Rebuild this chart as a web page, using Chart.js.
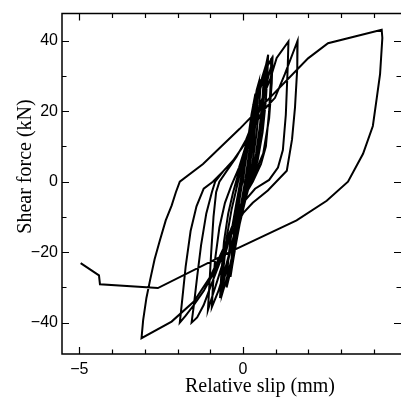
<!DOCTYPE html>
<html>
<head>
<meta charset="utf-8">
<script src="https://cdn.jsdelivr.net/npm/chart.js@4.4.0/dist/chart.umd.min.js"></script>
<style>html,body{margin:0;padding:0;background:#fff}</style>
</head>
<body>
<canvas id="myChart" width="401" height="401"></canvas>
<script>
// relative slip (mm)
const slip = [
  0, 0.08, 0.17, 0.26, 0.32,
  0.28, 0.2, 0.08, -0.05, -0.15, -0.25, -0.28,
  -0.22, -0.12, 0.0, 0.12, 0.24, 0.35, 0.4,
  0.35, 0.26, 0.14, 0.02, -0.1, -0.2, -0.34,
  -0.3, -0.2, -0.08, 0.0,
  0.1, 0.2, 0.3, 0.38,
  0.34, 0.25, 0.12, 0.0, -0.12, -0.22, -0.3,
  -0.27, -0.18, -0.06, 0.06, 0.18, 0.3, 0.42, 0.48,
  0.42, 0.32, 0.18, 0.04, -0.1, -0.22, -0.33, -0.38,
  -0.33, -0.22, -0.1, 0.02, 0.15, 0.28, 0.42, 0.55,
  0.5, 0.42, 0.3, 0.15, 0.0, -0.15, -0.3, -0.42, -0.5,
  -0.45, -0.33, -0.2, -0.06, 0.08, 0.22, 0.38, 0.52, 0.64,
  0.6, 0.52, 0.4, 0.25, 0.08, -0.1, -0.28, -0.45, -0.64,
  -0.6, -0.5, -0.35, -0.2, -0.05, 0.12, 0.3, 0.48, 0.6, 0.7,
  0.67, 0.6, 0.5, 0.35, 0.15, -0.05, -0.25, -0.42, -0.58, -0.7,
  -0.66, -0.58, -0.45, -0.3, -0.12, 0.05, 0.22, 0.4, 0.58, 0.68, 0.77,
  0.75, 0.7, 0.6, 0.45, 0.25, 0.05, -0.15, -0.35, -0.55, -0.75, -0.95,
  -0.92, -0.85, -0.72, -0.55, -0.35, -0.12, 0.08, 0.3, 0.5, 0.7, 0.88,
  0.86, 0.8, 0.7, 0.55, 0.3, 0.05, -0.18, -0.38, -0.58, -0.78, -0.92, -1.07,
  -1.03, -0.97, -0.9, -0.82, -0.72, -0.5, -0.2, 0.1, 0.4, 0.65, 0.83, 1.03, 1.39,
  1.37, 1.31, 1.22, 1.07, 0.8, 0.37, 0, -0.25, -0.5, -0.75, -1.0, -1.2, -1.4, -1.57,
  -1.5, -1.4, -1.28, -1.12, -0.95, -0.85, -0.6, -0.3, 0, 0.3, 0.6, 0.98, 1.28, 1.67,
  1.66, 1.59, 1.5, 1.34, 0.76, 0.3, 0, -0.3, -0.6, -0.9, -1.2, -1.5, -1.75, -1.93,
  -1.85, -1.75, -1.6, -1.42, -1.2, -0.92, -0.6, -0.3, 0.12, 0.4, 0.62, 0.78, 0.9,
  0.88, 0.8, 0.62, 0.3, 0, -0.3, -0.6, -1.0, -1.5, -2.18, -3.1,
  -3.05, -2.95, -2.84, -2.7, -2.54, -2.36, -2.18, -2.05, -1.93, -1.22, -0.1, 1.99, 2.6, 4.24,
  4.26, 4.19, 4.09, 3.97, 3.67, 3.21, 2.56, 1.64, -0.3, -2.6,
  -4.37, -4.40, -4.96
];
// shear force (kN), same order
const force = [
  0, 6, 13, 19, 22,
  16, 9, 1, -6, -12, -18, -20,
  -13, -6, 1, 8, 15, 22, 24,
  17, 9, 2, -5, -12, -17, -24,
  -17, -9, -2, 0,
  8, 15, 21, 25,
  19, 11, 3, -4, -11, -17, -22,
  -16, -9, -2, 5, 12, 19, 26, 28,
  20, 11, 3, -4, -11, -18, -24, -27,
  -19, -11, -4, 3, 10, 17, 24, 29,
  22, 14, 6, -1, -7, -14, -21, -27, -30,
  -22, -13, -6, 1, 8, 15, 22, 28, 30,
  24, 16, 8, 1, -5, -12, -19, -26, -32,
  -25, -16, -8, -2, 4, 11, 18, 26, 30, 33,
  27, 19, 11, 4, -2, -8, -14, -21, -28, -33,
  -26, -17, -9, -3, 3, 9, 15, 22, 28, 32, 36,
  31, 23, 14, 6, 0, -5, -11, -18, -25, -31, -35.6,
  -30, -22, -13, -6, -1, 4, 10, 18, 26, 32, 35,
  30, 20, 10, 5, 0, -4, -9, -15, -22, -28, -32, -36.4,
  -30, -20, -10, -3, 0, 3, 7, 12, 19, 25, 29, 35.1, 39.8,
  33, 19, 9, 4, 0.5, -2, -6, -11, -18, -24, -30, -35, -38.5, -40,
  -35, -27, -18, -9, -3, 0, 3, 6, 10, 15, 20, 23.8, 30.5, 40,
  32.3, 21, 12, 3.1, -2.5, -6, -9, -14, -20, -26, -31, -35, -38, -40,
  -33, -24, -14, -7, -2, 0, 3, 6, 11.6, 17, 24, 30, 34,
  28, 18, 8, 1, -5, -12, -19, -27, -34, -39.7, -44.4,
  -39.3, -33, -28, -22, -16.7, -11, -6.8, -3, 0, 5, 15, 35, 39.3, 43.1,
  40.8, 30.5, 23.8, 15.8, 7.9, 0, -5.4, -11, -19.5, -30.2,
  -29.1, -26.6, -23.1
];
const xTickLabels = [-5, 0];
const yTickLabels = [-40, -20, 0, 20, 40];
const xTicks = [-5, -4, -3, -2, -1, 0, 1, 2, 3, 4];
const yTicks = [-40, -30, -20, -10, 0, 10, 20, 30, 40];

const fmt = (v) => (v < 0 ? "\u2212" + Math.abs(v) : String(v));

const frame = {
  id: "frame",
  afterDraw(c) {
    const ctx = c.ctx;
    const a = c.chartArea;
    const xs = c.scales.x, ys = c.scales.y;
    ctx.save();
    ctx.strokeStyle = "#000";
    ctx.lineWidth = 1.5;
    ctx.beginPath();
    ctx.moveTo(a.right, a.top);
    ctx.lineTo(a.left, a.top);
    ctx.lineTo(a.left, a.bottom);
    ctx.lineTo(a.right, a.bottom);
    ctx.stroke();
    ctx.lineWidth = 1.2;
    ctx.beginPath();
    xTicks.forEach((v) => {
      const p = Math.round(xs.getPixelForValue(v)) + 0.5;
      const len = v % 5 === 0 ? 7 : 4.5;
      ctx.moveTo(p, a.bottom); ctx.lineTo(p, a.bottom - len);
      ctx.moveTo(p, a.top); ctx.lineTo(p, a.top + len);
    });
    yTicks.forEach((v) => {
      const p = Math.round(ys.getPixelForValue(v)) + 0.5;
      const len = v % 20 === 0 ? 7 : 4.5;
      ctx.moveTo(a.left, p); ctx.lineTo(a.left + len, p);
      ctx.moveTo(a.right, p); ctx.lineTo(a.right - len, p);
    });
    ctx.stroke();
    // axis titles
    ctx.fillStyle = "#000";
    ctx.font = '20px "Liberation Serif"';
    ctx.textAlign = "center";
    ctx.textBaseline = "alphabetic";
    ctx.fillText("Relative slip (mm)", 260, 392);
    ctx.translate(31, 166.5);
    ctx.rotate(-Math.PI / 2);
    ctx.fillText("Shear force (kN)", 0, 0);
    ctx.restore();
  },
};

new Chart(document.getElementById("myChart"), {
  type: "scatter",
  data: {
    datasets: [
      {
        data: slip.map((x, i) => ({ x: x, y: force[i] })),
        showLine: true,
        borderColor: "#000",
        borderWidth: 2,
        pointRadius: 0,
        tension: 0,
        fill: false,
      },
    ],
  },
  options: {
    responsive: false,
    animation: false,
    layout: { padding: { top: 12, right: 0, left: 0, bottom: 0 } },
    scales: {
      x: {
        type: "linear",
        min: -5.53,
        max: 4.83,
        grid: { display: false, drawTicks: false },
        border: { display: false },
        afterBuildTicks: (s) => { s.ticks = xTickLabels.map((v) => ({ value: v })); },
        afterFit: (s) => { s.height = 47; },
        ticks: {
          color: "#000",
          padding: 6,
          maxRotation: 0,
          font: { family: "Liberation Sans", size: 16 },
          callback: (v) => fmt(v),
        },
      },
      y: {
        type: "linear",
        min: -48.9,
        max: 47.7,
        grid: { display: false, drawTicks: false },
        border: { display: false },
        afterBuildTicks: (s) => { s.ticks = yTickLabels.map((v) => ({ value: v })); },
        afterFit: (s) => { s.width = 62; },
        ticks: {
          color: "#000",
          padding: 4,
          font: { family: "Liberation Sans", size: 16 },
          callback: (v) => fmt(v),
        },
      },
    },
    plugins: {
      legend: { display: false },
      tooltip: { enabled: false },
    },
  },
  plugins: [frame],
});
</script>
</body>
</html>
